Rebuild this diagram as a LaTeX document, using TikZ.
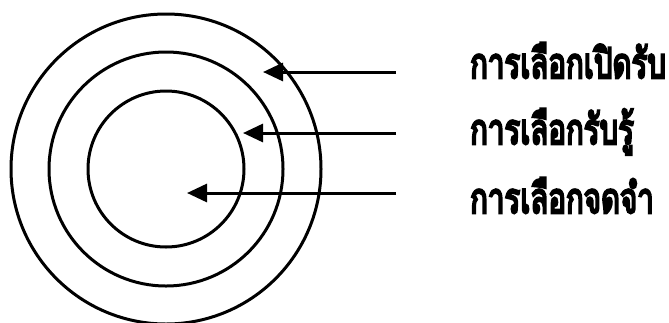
\documentclass[tikz,border=0pt]{standalone}
\usepackage{fontspec}
\newfontfamily\thaifont[Script=Thai, FakeBold=6]{Loma}
\usetikzlibrary{arrows.meta,positioning}
\tikzset{
  ring/.style={draw, circle, line width=3pt, inner sep=0pt},
  pointer/.style={-{Triangle[length=20pt, width=18pt]}, line width=3pt},
  thaitext/.style={anchor=base west, inner sep=0pt, xscale=0.7, transform shape,
    font=\thaifont\fontsize{42}{44}\selectfont}
}
\begin{document}
\begin{tikzpicture}[x=1pt, y=-1pt]
    \useasboundingbox (0,0) rectangle (669,322);
    \coordinate (centre) at (166,169);
    \node[ring, minimum size=310pt] (exposure) at (centre) {};
    \node[ring, minimum size=234pt] (perception) at (centre) {};
    \node[ring, minimum size=156pt] (retention) at (centre) {};
    % labels
    \node[thaitext] (exposuretext) at (470,78) {การเลือกเปิดรับ};
    \node[thaitext] (perceptiontext) at (470,144) {การเลือกรับรู้};
    \node[thaitext] (retentiontext) at (470,213) {การเลือกจดจำ};
    % arrow ends
    \coordinate (exposuretail) at (396,72);
    \coordinate (exposurehead) at (263,72);
    \coordinate (perceptiontail) at (396,133);
    \coordinate (perceptionhead) at (243,133);
    \coordinate (retentiontail) at (396,193);
    \coordinate (retentionhead) at (187,193);
    \draw[pointer] (exposuretail) -- (exposurehead);
    \draw[pointer] (perceptiontail) -- (perceptionhead);
    \draw[pointer] (retentiontail) -- (retentionhead);
  \end{tikzpicture}
\end{document}
